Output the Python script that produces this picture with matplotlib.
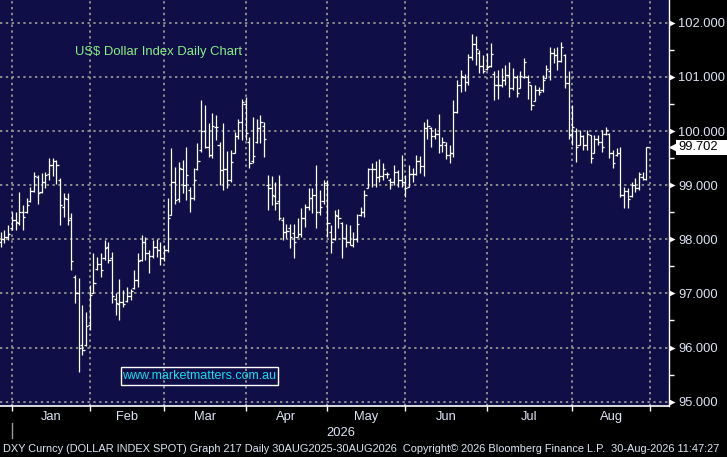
import matplotlib
matplotlib.use('Agg')
import matplotlib.pyplot as plt
import matplotlib.transforms as mtransforms
from matplotlib.patches import Rectangle
import numpy as np
import pandas as pd

plt.rcParams['font.family'] = ['Liberation Sans', 'DejaVu Sans']

# trading sessions on the chart (New Year's Day skipped)
days = pd.bdate_range('2025-12-29', '2026-08-31')
days = days[days != pd.Timestamp('2026-01-01')]

highs = [98.14, 98.17, 98.26, 98.51, 98.51, 98.88, 98.63, 98.76, 98.97, 99.25,
         99.19, 99.22, 99.25, 99.50, 99.50, 99.46, 99.13, 98.85, 98.85, 98.48,
         97.34, 97.28, 96.79, 96.66, 97.16, 97.74, 97.68, 97.74, 97.98, 97.95,
         97.77, 97.00, 97.26, 97.07, 97.12, 97.09, 97.43, 97.74, 98.08, 98.04,
         97.80, 97.98, 98.01, 97.95, 97.89, 98.76, 99.68, 99.34, 99.43, 99.46,
         99.71, 98.97, 99.31, 99.77, 100.57, 100.48, 100.14, 100.33, 100.30, 99.80,
         100.14, 99.63, 99.65, 99.99, 100.23, 100.60, 100.63, 99.89, 100.26, 100.23,
         100.30, 100.17, 99.19, 99.16, 99.06, 99.19, 98.42, 98.29, 98.29, 98.29,
         98.39, 98.57, 98.66, 98.94, 98.94, 99.37, 98.91, 99.09, 99.09, 98.26,
         98.54, 98.56, 98.32, 98.28, 98.26, 98.14, 98.46, 98.60, 98.91, 99.31,
         99.40, 99.45, 99.48, 99.41, 99.25, 99.13, 99.37, 99.28, 99.55, 99.19,
         99.38, 99.32, 99.55, 99.53, 100.17, 100.23, 100.08, 100.05, 100.31, 99.89,
         99.80, 99.74, 100.57, 100.94, 101.12, 101.05, 101.43, 101.80, 101.76, 101.50,
         101.40, 101.44, 101.62, 101.10, 101.13, 101.16, 101.22, 101.28, 101.16, 101.03,
         101.10, 101.34, 101.03, 100.85, 100.85, 100.82, 101.03, 101.22, 101.56, 101.53,
         101.56, 101.65, 101.43, 101.10, 100.48, 100.05, 100.02, 99.93, 100.02, 99.93,
         99.93, 99.93, 100.02, 100.08, 99.96, 99.65, 99.68, 99.71, 98.97, 98.94,
         99.06, 99.13, 99.25, 99.25, 99.71]

lows = [97.86, 97.93, 97.98, 98.17, 98.17, 98.26, 98.17, 98.48, 98.69, 98.88,
        98.66, 98.85, 98.94, 99.09, 99.16, 99.03, 98.26, 98.42, 98.26, 97.43,
        96.82, 95.55, 95.86, 96.02, 96.33, 97.00, 97.43, 97.31, 97.62, 97.56,
        96.82, 96.60, 96.51, 96.75, 96.85, 96.88, 97.09, 97.12, 97.59, 97.62,
        97.37, 97.65, 97.68, 97.52, 97.59, 97.77, 98.45, 98.66, 98.69, 98.85,
        98.72, 98.51, 98.72, 99.28, 99.62, 99.68, 99.52, 99.50, 99.83, 99.00,
        98.91, 98.95, 99.06, 99.59, 99.86, 99.83, 99.83, 99.31, 99.40, 99.77,
        99.77, 99.52, 98.54, 98.63, 98.54, 98.36, 97.99, 98.02, 97.83, 97.65,
        98.05, 98.05, 98.23, 98.54, 98.48, 98.20, 98.45, 98.66, 98.05, 97.74,
        97.99, 98.20, 97.65, 97.86, 97.89, 97.86, 97.95, 98.43, 98.42, 98.94,
        98.96, 98.96, 99.06, 99.09, 99.13, 98.92, 99.00, 98.97, 98.97, 98.78,
        98.96, 99.06, 99.19, 99.22, 99.16, 99.86, 99.71, 99.86, 99.59, 99.62,
        99.49, 99.40, 99.52, 100.34, 100.72, 100.73, 100.85, 101.31, 101.22, 101.07,
        101.07, 101.13, 101.19, 100.57, 100.60, 100.82, 100.85, 100.63, 100.76, 100.63,
        100.79, 100.97, 100.60, 100.39, 100.55, 100.66, 100.72, 100.97, 100.95, 101.25,
        101.13, 101.28, 100.79, 99.86, 99.74, 99.43, 99.74, 99.65, 99.65, 99.40,
        99.59, 99.74, 99.62, 99.93, 99.50, 99.31, 99.53, 98.79, 98.57, 98.57,
        98.79, 98.88, 98.91, 99.09, 99.09]

opens = [97.95, 98.00, 98.05, 98.20, 98.35, 98.30, 98.50, 98.50, 98.70, 98.90,
         99.15, 98.88, 99.05, 99.20, 99.38, 99.45, 99.10, 98.60, 98.75, 98.40,
         97.30, 97.00, 96.05, 96.05, 96.42, 97.00, 97.45, 97.55, 97.65, 97.85,
         97.65, 96.90, 96.80, 96.85, 96.86, 96.95, 97.10, 97.25, 97.62, 97.95,
         97.75, 97.70, 97.85, 97.80, 97.65, 97.80, 98.45, 99.05, 98.75, 99.30,
         99.00, 98.91, 98.76, 99.30, 99.65, 100.00, 99.70, 99.55, 100.08, 99.75,
         99.28, 99.30, 99.10, 99.60, 99.90, 100.17, 100.50, 99.80, 99.45, 99.80,
         100.05, 100.10, 99.00, 98.95, 98.80, 98.70, 98.35, 98.14, 98.21, 98.12,
         98.05, 98.10, 98.39, 98.60, 98.76, 98.82, 98.50, 98.70, 99.00, 98.14,
         98.00, 98.43, 98.30, 98.02, 97.95, 97.90, 98.00, 98.45, 98.50, 98.95,
         99.30, 99.30, 99.15, 99.16, 99.20, 99.10, 99.05, 99.25, 99.10, 99.05,
         98.96, 99.20, 99.20, 99.45, 99.35, 100.05, 100.05, 99.90, 99.95, 99.74,
         99.75, 99.55, 99.60, 100.35, 100.85, 101.00, 100.90, 101.37, 101.60, 101.45,
         101.20, 101.15, 101.20, 101.05, 100.85, 100.85, 100.95, 101.03, 100.80, 101.00,
         100.80, 101.00, 101.00, 100.85, 100.55, 100.75, 100.75, 100.98, 101.10, 101.45,
         101.40, 101.30, 101.40, 100.88, 99.95, 100.00, 99.75, 99.90, 99.75, 99.93,
         99.60, 99.85, 99.80, 99.95, 99.95, 99.60, 99.55, 99.60, 98.82, 98.90,
         98.80, 99.00, 98.95, 99.15, 99.12]

closes = [98.00, 98.05, 98.10, 98.35, 98.32, 98.50, 98.42, 98.63, 98.90, 99.16,
          98.85, 99.05, 99.19, 99.37, 99.45, 99.37, 98.63, 98.76, 98.36, 97.60,
          97.01, 96.00, 95.95, 96.40, 96.97, 97.19, 97.55, 97.43, 97.84, 97.62,
          96.95, 96.82, 96.85, 96.80, 96.95, 97.05, 97.25, 97.60, 97.95, 97.75,
          97.70, 97.85, 97.80, 97.65, 97.80, 98.40, 99.05, 98.73, 99.32, 99.00,
          99.19, 98.76, 99.10, 99.45, 100.00, 99.71, 99.56, 100.09, 100.08, 99.28,
          99.30, 99.10, 99.43, 99.90, 100.17, 100.54, 99.96, 99.40, 99.53, 100.05,
          100.17, 99.86, 98.95, 98.82, 98.67, 98.39, 98.14, 98.15, 98.05, 97.95,
          98.10, 98.39, 98.60, 98.76, 98.82, 98.51, 98.60, 99.04, 98.30, 97.95,
          98.45, 98.40, 98.02, 97.95, 97.89, 98.00, 98.29, 98.50, 98.82, 99.30,
          99.30, 99.15, 99.16, 99.30, 99.20, 99.05, 99.25, 99.10, 99.05, 98.94,
          99.20, 99.20, 99.45, 99.35, 100.05, 100.10, 99.90, 99.95, 99.74, 99.80,
          99.55, 99.60, 100.35, 100.85, 101.02, 100.90, 101.37, 101.61, 101.51, 101.20,
          101.10, 101.19, 101.42, 100.85, 100.85, 100.95, 101.03, 100.80, 101.00, 100.70,
          101.02, 101.28, 100.91, 100.48, 100.75, 100.72, 100.95, 101.15, 101.45, 101.40,
          101.30, 101.55, 100.88, 99.93, 100.08, 99.70, 99.90, 99.75, 99.95, 99.50,
          99.85, 99.80, 99.70, 100.02, 99.60, 99.40, 99.60, 98.82, 98.90, 98.75,
          99.00, 98.95, 99.20, 99.12, 99.702]

last_price = 99.702
price_ticks = [95, 96, 97, 98, 99, 100, 101, 102]
title = 'US$ Dollar Index Daily Chart'
watermark = 'www.marketmatters.com.au'
footer = ('DXY Curncy (DOLLAR INDEX SPOT) Graph 217 Daily 30AUG2025-30AUG2026  '
          'Copyright\u00a9 2026 Bloomberg Finance L.P.  30-Aug-2026 11:47:27')

navy = '#0f0e47'
grid_c = '#8c8c8c'
txt_c = '#dde4f4'

fig = plt.figure(figsize=(7.27, 4.57), dpi=100, facecolor='black')
ax = fig.add_axes([0, 1 - 406 / 457, 668.7 / 727, 406 / 457])
ax.set_facecolor(navy)

x = np.arange(len(days))
# month boundaries: first session of each month, plus the start of September
month_start = [i for i in range(len(days)) if i > 0 and days[i].month != days[i - 1].month]
month_edges = month_start + [len(days)]
month_labels = [days[i].strftime('%b') for i in month_start]

dots = (0, (1.2, 1.8))
for v in price_ticks:
    ax.axhline(v, color=grid_c, lw=1.4, ls=dots, zorder=1)
for m in month_edges:
    ax.axvline(m, color=grid_c, lw=1.4, ls=dots, zorder=1)

# OHLC bars
ax.vlines(x, lows, highs, color='white', lw=0.9, zorder=3)
ax.hlines(opens, x - 0.6, x, color='white', lw=0.9, zorder=3)
ax.hlines(closes, x, x + 0.6, color='white', lw=0.9, zorder=3)

ax.set_xlim(-0.19, 180.0)
ax.set_ylim(94.92, 102.42)

for s in ['top', 'left']:
    ax.spines[s].set_visible(False)
ax.spines['right'].set_color('white')
ax.spines['bottom'].set_color('white')
ax.spines['right'].set_linewidth(1.0)
ax.spines['bottom'].set_linewidth(1.2)

ax.yaxis.tick_right()
ax.set_yticks(price_ticks)
ax.set_yticklabels(['%.3f' % v for v in price_ticks])
ax.set_yticks(np.arange(95.5, 102.0, 1.0), minor=True)
ax.tick_params(axis='y', which='major', length=0, pad=7, labelsize=9.3, labelcolor=txt_c)
ax.tick_params(axis='y', which='minor', length=3.5, width=1, color='white', direction='out')

ax.set_xticks(month_edges)
ax.set_xticklabels([])
ax.tick_params(axis='x', length=3.5, width=1, color='white', direction='out')

# triangles marking the price levels
ytrans = mtransforms.blended_transform_factory(ax.transAxes, ax.transData)
tri = mtransforms.offset_copy(ytrans, fig=fig, x=3.5, y=0, units='dots')
ax.plot([1] * len(price_ticks), price_ticks, ls='none', marker='>', ms=5,
        color='white', mec='none', transform=tri, clip_on=False, zorder=5)

# last price tag: white box running to the right edge, notch pointing left
tag_y = ax.transData.transform((0, last_price))[1] / fig.bbox.height
fig.add_artist(Rectangle((676 / 727, tag_y - 7.5 / 457), 51 / 727, 15 / 457,
                         transform=fig.transFigure, fc='white', ec='none', zorder=2))
ax.plot([1], [last_price], ls='none', marker='<', ms=9, color='white', mec='none',
        transform=mtransforms.offset_copy(ytrans, fig=fig, x=5, y=0, units='dots'),
        clip_on=False, zorder=5)
fig.text(678 / 727, tag_y, '%.3f' % last_price, ha='left', va='center',
         fontsize=9.3, color='black', zorder=3)

# month names and year
xtrans = mtransforms.blended_transform_factory(ax.transData, ax.transAxes)
for a, b, lab in zip(month_edges[:-1], month_edges[1:], month_labels):
    ax.text((a + b) / 2, -11 / 406, lab, transform=xtrans, ha='center', va='center',
            fontsize=9.3, color=txt_c, clip_on=False)
ax.text((month_start[0] + 180.0) / 2, -27 / 406, str(days[-1].year), transform=xtrans,
        ha='center', va='center', fontsize=9.3, color=txt_c, clip_on=False)
ax.plot([month_start[0]] * 2, [-17 / 406, -32 / 406], color='#9a9a9a', lw=1,
        transform=xtrans, clip_on=False)

ax.text(75 / 668.7, 1 - 52 / 406, title, transform=ax.transAxes, ha='left',
        va='center', fontsize=9.4, color='#86ef86')

ax.add_patch(Rectangle((121 / 668.7, 1 - 385 / 406), 157 / 668.7, 18 / 406,
                       transform=ax.transAxes, fill=False, ec='white', lw=1, zorder=4))
ax.text(199.5 / 668.7, 1 - 376 / 406, watermark, transform=ax.transAxes,
        ha='center', va='center', fontsize=9, color='#16dcf0', zorder=4)

fig.text(3 / 727, 1 - 449 / 457, footer, ha='left', va='center', fontsize=7.9,
         color=txt_c)

fig.savefig('out.png', dpi=100, facecolor='black')
